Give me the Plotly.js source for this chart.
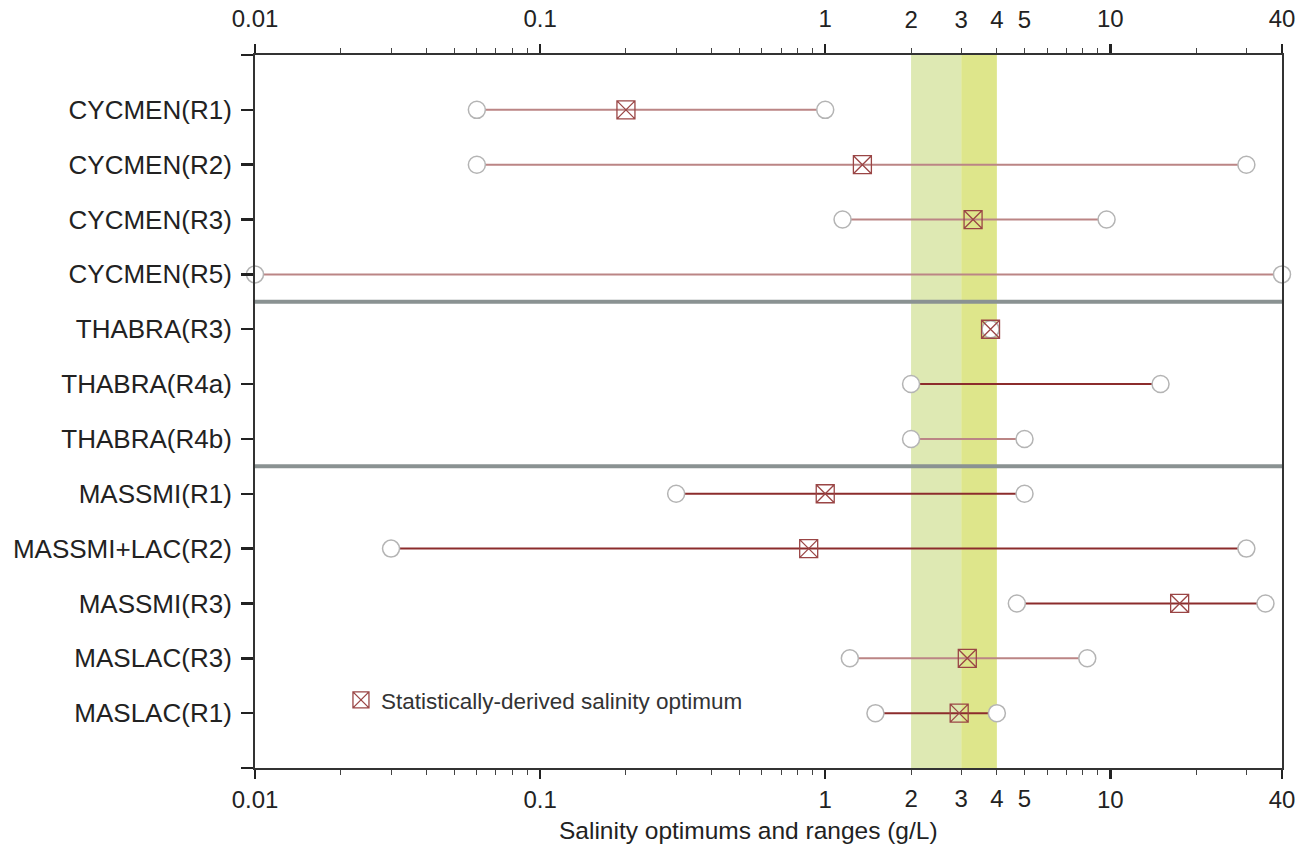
<!DOCTYPE html>
<html>
<head>
<meta charset="utf-8">
<script src="https://cdn.plot.ly/plotly-3.0.1.min.js"></script>
<style>
html,body{margin:0;padding:0;background:#fff;}
#chart{width:1312px;height:852px;}
</style>
</head>
<body>
<div id="chart"></div>
<script>
// ---- data ----
var taxa = ["CYCMEN(R1)","CYCMEN(R2)","CYCMEN(R3)","CYCMEN(R5)","THABRA(R3)","THABRA(R4a)","THABRA(R4b)","MASSMI(R1)","MASSMI+LAC(R2)","MASSMI(R3)","MASLAC(R3)","MASLAC(R1)"];
var rangeMin = [0.06, 0.06, 1.15, 0.01, 3.8, 2.0, 2.0, 0.3, 0.03, 4.7, 1.22, 1.5];
var rangeMax = [1.0, 30, 9.7, 40, 3.8, 15, 5.0, 5.0, 30, 35, 8.3, 4.0];
var optimum = [0.2, 1.35, 3.3, null, 3.8, null, null, 1.0, 0.875, 17.5, 3.15, 2.95];
var groupBreaks = [3.5, 6.5];
var bandLow = [2, 3];
var bandHigh = [3, 4];
var majorTicks = [0.01, 0.1, 1, 10, 40];
var majorTickText = ["0.01", "0.1", "1", "10", "40"];
var extraTicks = [2, 3, 4, 5];
var extraTickText = ["2", "3", "4", "5"];
var minorTicks = [0.02,0.03,0.04,0.05,0.06,0.07,0.08,0.09,0.2,0.3,0.4,0.5,0.6,0.7,0.8,0.9,2,3,4,5,6,7,8,9,20,30];
var legendLabel = "Statistically-derived salinity optimum";
var xTitle = "Salinity optimums and ranges (g/L)";

// ---- styles ----
var lineTone = ["light","light","light","light","light","dark","light","dark","dark","dark","light","dark"];
var toneColor = {light: "#bb8585", dark: "#8c2c2c"};
var bandColors = ["rgba(214,228,160,0.8)", "rgba(214,224,110,0.8)"];
var FONT = "Liberation Sans, Arial, Helvetica, sans-serif";

var idx = taxa.map(function(_, i){ return i; });
var traces = [];

// range lines
idx.forEach(function(i){
  traces.push({
    x: [rangeMin[i], rangeMax[i]], y: [i, i],
    mode: "lines", type: "scatter",
    line: {color: toneColor[lineTone[i]], width: 2},
    hoverinfo: "skip", showlegend: false
  });
});

// range end circles
traces.push({
  x: rangeMin.concat(rangeMax),
  y: idx.concat(idx),
  mode: "markers", type: "scatter",
  marker: {symbol: "circle", size: 17, color: "#ffffff", line: {color: "#b4b4b4", width: 1.5}},
  hoverinfo: "skip", showlegend: false, cliponaxis: false
});

// optimum markers
traces.push({
  x: optimum, y: idx,
  mode: "markers", type: "scatter",
  name: legendLabel,
  marker: {symbol: "square-x-open", size: 18, color: "#9a4545", line: {width: 1.3}},
  showlegend: true
});

// helper traces to keep overlay axes alive
["x2","x3","x4"].forEach(function(ax){
  traces.push({x: rangeMax, y: idx, xaxis: ax, yaxis: "y", mode: "markers",
    marker: {opacity: 0}, hoverinfo: "skip", showlegend: false});
});

var xr = [Math.log10(0.01), Math.log10(40)];
var baseX = {
  type: "log", range: xr, showgrid: false, zeroline: false,
  tickfont: {family: FONT, size: 24, color: "#222"}
};
function ax(o){ return Object.assign({}, baseX, o); }

var shapes = [];
bandLow.forEach(function(lo, k){
  shapes.push({type: "rect", xref: "x", yref: "paper", x0: lo, x1: bandHigh[k], y0: 0, y1: 1,
    fillcolor: bandColors[k], line: {width: 0}, layer: "below"});
});
groupBreaks.forEach(function(yb){
  shapes.push({type: "line", xref: "paper", yref: "y", x0: 0, x1: 1, y0: yb, y1: yb,
    line: {color: "#8a9292", width: 4}, layer: "above"});
});

var layout = {
  width: 1312, height: 852,
  margin: {l: 255, r: 30, t: 55, b: 84},
  paper_bgcolor: "#ffffff", plot_bgcolor: "rgba(0,0,0,0)",
  font: {family: FONT, color: "#222"},
  showlegend: true,
  legend: {x: 0.0837, y: 0.095, xanchor: "left", yanchor: "middle",
    bgcolor: "rgba(0,0,0,0)", font: {family: FONT, size: 22.5, color: "#333"}},
  xaxis: ax({side: "bottom", anchor: "y", showline: true, linecolor: "#333", linewidth: 2,
    ticks: "outside", tickvals: majorTicks, ticktext: majorTickText, ticklen: 9, tickwidth: 2.5, tickcolor: "#222",
    minor: {tickvals: minorTicks, ticklen: 5, tickwidth: 1, tickcolor: "#444", ticks: "outside"}}),
  xaxis2: ax({overlaying: "x", side: "top", anchor: "y", showline: true, linecolor: "#333", linewidth: 2,
    ticks: "outside", tickvals: majorTicks, ticktext: majorTickText, ticklen: 9, tickwidth: 2.5, tickcolor: "#222",
    ticklabelstandoff: 7,
    minor: {tickvals: minorTicks, ticklen: 5, tickwidth: 1, tickcolor: "#444", ticks: "outside"}}),
  xaxis3: ax({overlaying: "x", side: "bottom", anchor: "y", showline: false,
    ticks: "outside", tickvals: extraTicks, ticktext: extraTickText, ticklen: 9, tickcolor: "rgba(0,0,0,0)"}),
  xaxis4: ax({overlaying: "x", side: "top", anchor: "y", showline: false, ticklabelstandoff: 7,
    ticks: "outside", tickvals: extraTicks, ticktext: extraTickText, ticklen: 9, tickcolor: "rgba(0,0,0,0)"}),
  yaxis: {range: [12, -1], showgrid: false, zeroline: false,
    showline: true, linecolor: "#333", linewidth: 2, mirror: true,
    ticks: "outside", ticklen: 12, tickwidth: 2.5, tickcolor: "#222", ticklabelstandoff: 4,
    tickvals: [-1].concat(idx, [12]), ticktext: [""].concat(taxa, [""]),
    tickfont: {family: FONT, size: 26, color: "#222"}},
  annotations: [{text: xTitle, xref: "paper", yref: "paper", x: 0.4805, y: -0.087,
    xanchor: "center", yanchor: "middle", showarrow: false,
    font: {family: FONT, size: 24.5, color: "#222"}}],
  shapes: shapes
};

Plotly.newPlot("chart", traces, layout, {displayModeBar: false, staticPlot: true});
</script>
</body>
</html>
